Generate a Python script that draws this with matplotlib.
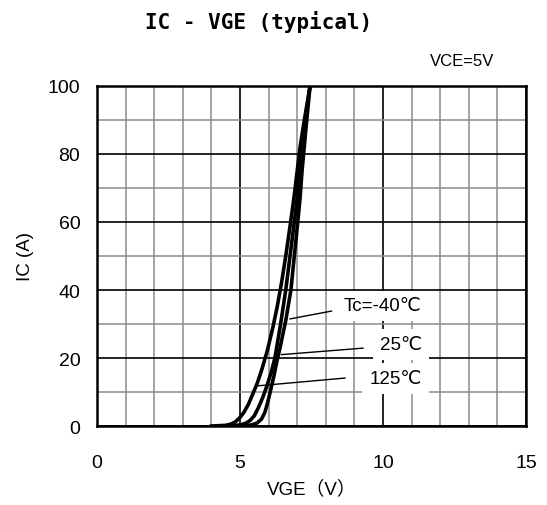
import matplotlib
matplotlib.use("Agg")
import matplotlib.pyplot as plt
from matplotlib.ticker import MultipleLocator

plt.rcParams['font.family'] = ['Liberation Sans', 'DejaVu Sans', 'Noto Sans CJK JP']

# IC - VGE curves
vge_125 = [4.0, 4.5, 4.7, 4.85, 5.0, 5.15, 5.3, 5.45, 5.6, 5.77, 5.95, 6.15, 6.3,
           6.45, 6.6, 6.72, 6.82, 6.9, 7.0, 7.1, 7.25, 7.45]
ic_125 = [0, 0.2, 0.6, 1.3, 2.5, 4.2, 6.5, 9.5, 12.5, 16.8, 22, 29, 35,
          42, 50, 57, 63, 68, 75, 82, 90, 100]
vge_25 = [4.5, 5.0, 5.2, 5.35, 5.5, 5.65, 5.8, 5.95, 6.1, 6.22, 6.42, 6.6, 6.75,
          6.9, 7.0, 7.1, 7.25, 7.45]
ic_25 = [0, 0.3, 0.8, 1.6, 3, 5.5, 8.5, 12, 16, 20, 30, 40, 50,
         60, 67, 77, 88, 100]
vge_m40 = [4.9, 5.4, 5.6, 5.75, 5.87, 5.97, 6.07, 6.18, 6.29, 6.4, 6.6, 6.78, 6.9,
           7.02, 7.1, 7.17, 7.3, 7.45]
ic_m40 = [0, 0.3, 0.9, 2, 4, 7, 10.5, 14.5, 19, 23, 31, 40, 50,
          60, 67, 75, 87, 100]

labels = ["Tc=-40\u2103", "25\u2103", "125\u2103"]
# (curve point, label point) for leader lines
leaders = [((6.75, 31.5), (8.2, 33.8)),
           ((6.45, 21.0), (9.3, 22.9)),
           ((5.6, 11.8), (8.67, 14.1))]
label_pos = [(11.35, 35.3), (11.35, 24.1), (11.35, 14.1)]

fig = plt.figure(figsize=(5.47, 5.06), dpi=100, facecolor="white")
ax = fig.add_axes([0.1773, 0.1561, 0.7843, 0.672])

ax.set_xlim(0, 15)
ax.set_ylim(0, 100)
ax.xaxis.set_major_locator(MultipleLocator(5))
ax.xaxis.set_minor_locator(MultipleLocator(1))
ax.yaxis.set_major_locator(MultipleLocator(20))
ax.yaxis.set_minor_locator(MultipleLocator(10))
ax.grid(which="minor", color="#8c8c8c", linewidth=1.1, zorder=0)
ax.grid(which="major", color="black", linewidth=1.2, zorder=1)
ax.tick_params(which="both", length=0, labelsize=14)
ax.tick_params(axis="x", pad=20)
ax.tick_params(axis="y", pad=12)
for spine in ax.spines.values():
    spine.set_linewidth(1.8)
    spine.set_zorder(5)

for v, i in [(vge_125, ic_125), (vge_25, ic_25), (vge_m40, ic_m40)]:
    ax.plot(v, i, color="black", linewidth=2.6, zorder=3,
            solid_joinstyle="round")

for (p0, p1), txt, (tx, ty) in zip(leaders, labels, label_pos):
    ax.plot([p0[0], p1[0]], [p0[1], p1[1]], color="black", linewidth=1.0, zorder=4)
    ax.text(tx, ty, txt, ha="right", va="center", fontsize=13.5, zorder=4,
            bbox=dict(facecolor="white", edgecolor="none", pad=5))

ax.set_xlabel("VGE\uff08V\uff09", fontsize=13.5, labelpad=6,
              family=['Liberation Sans', 'Noto Sans CJK JP'])
ax.set_ylabel("IC (A)", fontsize=13.5, labelpad=10)

fig.text(0.472, 0.956, "IC - VGE (typical)", ha="center", va="center",
         fontsize=15, fontweight="bold", family="DejaVu Sans Mono")
fig.text(0.845, 0.878, "VCE=5V", ha="center", va="center", fontsize=12)

fig.savefig("out.png", dpi=100, facecolor="white")
